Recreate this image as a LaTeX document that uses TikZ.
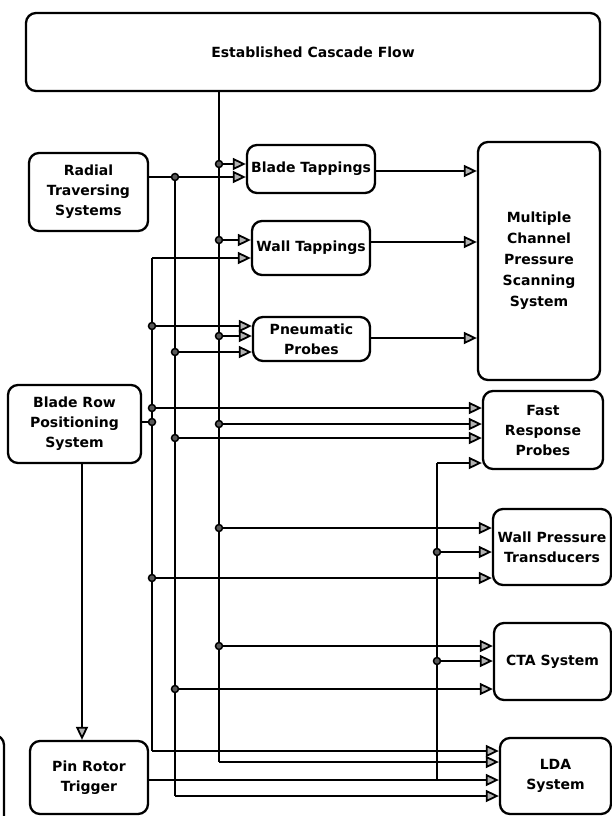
\documentclass[tikz,border=0pt]{standalone}
\usepackage{fontspec}
\setmainfont{DejaVu Sans}
\usetikzlibrary{arrows.meta,calc}
\begin{document}
\begin{tikzpicture}[x=1pt,y=-1pt]
\tikzset{
 box/.style={draw, line width=2.3pt, rounded corners=10pt, align=center,
   font=\bfseries\fontsize{14}{20}\selectfont, inner sep=0pt},
 wire/.style={line width=1.8pt},
 arr/.style={wire, -{Triangle[length=13pt,width=12pt,fill=gray!60,line width=1.8pt]}},
 jdot/.style={circle, draw=black, fill=black!65, line width=1.5pt, inner sep=0pt, minimum size=7pt},
}
\clip (0,0) rectangle (612,816);
\useasboundingbox (0,0) rectangle (612,816);

% boxes
\node[box, minimum width=574pt, minimum height=78pt] (top) at (313,52) {Established Cascade Flow};
\node[box, minimum width=119pt, minimum height=78pt] (rts) at (88.5,192) {Radial\\Traversing\\Systems};
\node[box, minimum width=133pt, minimum height=78pt] (brps) at (74.5,424) {Blade Row\\Positioning\\System};
\node[box, minimum width=118pt, minimum height=73pt] (prt) at (89,777.5) {Pin Rotor\\Trigger};
\node[box, minimum width=128pt, minimum height=48pt] (bt) at (311,169) {Blade Tappings};
\node[box, minimum width=118pt, minimum height=54pt] (wt) at (311,248) {Wall Tappings};
\node[box, minimum width=117pt, minimum height=44pt] (pp) at (311.5,339) {Pneumatic\\Probes};
\node[box, minimum width=122pt, minimum height=238pt, font=\bfseries\fontsize{14}{21}\selectfont] (mcps) at (539,261) {Multiple\\Channel\\Pressure\\Scanning\\System};
\node[box, minimum width=120pt, minimum height=78pt] (frp) at (543,430) {Fast\\Response\\Probes};
\node[box, minimum width=118pt, minimum height=76pt] (wpt) at (552,547) {Wall Pressure\\Transducers};
\node[box, minimum width=117pt, minimum height=77pt] (cta) at (552.5,661.5) {CTA System};
\node[box, minimum width=111pt, minimum height=76pt] (lda) at (555.5,776) {LDA\\System};
% partial box at left edge
\draw[line width=2.3pt, rounded corners=10pt] (-60,735) rectangle (4,840);

% bus C (cascade flow)
\coordinate (c1) at (219,164);
\coordinate (c2) at (219,240);
\coordinate (c3) at (219,336);
\coordinate (c4) at (219,424);
\coordinate (c5) at (219,528);
\coordinate (c6) at (219,646);
\coordinate (cEnd) at (219,762);
\draw[wire] (top.south -| c1) -- (cEnd);
\draw[arr] (c1) -- (c1 -| bt.west);
\draw[arr] (c2) -- (c2 -| wt.west);
\draw[arr] (c3) -- (c3 -| pp.west);
\draw[arr] (c4) -- (c4 -| frp.west);
\draw[arr] (c5) -- (c5 -| wpt.west);
\draw[arr] (c6) -- (c6 -| cta.west);
\draw[arr] (cEnd) -- (cEnd -| lda.west);

% bus B (radial traversing)
\coordinate (b0) at (175,177);
\coordinate (b1) at (175,352);
\coordinate (b2) at (175,438);
\coordinate (b3) at (175,689);
\coordinate (bEnd) at (175,796);
\draw[arr] (rts.east |- b0) -- (b0 -| bt.west);
\draw[wire] (b0) -- (bEnd);
\draw[arr] (b1) -- (b1 -| pp.west);
\draw[arr] (b2) -- (b2 -| frp.west);
\draw[arr] (b3) -- (b3 -| cta.west);
\draw[arr] (bEnd) -- (bEnd -| lda.west);

% bus A (blade row positioning)
\coordinate (aTop) at (152,258);
\coordinate (a1) at (152,326);
\coordinate (a2) at (152,408);
\coordinate (a3) at (152,422);
\coordinate (a4) at (152,578);
\coordinate (aEnd) at (152,751);
\draw[arr] (aTop) -- (aTop -| wt.west);
\draw[wire] (aTop) -- (aEnd);
\draw[wire] (brps.east |- a3) -- (a3);
\draw[arr] (a1) -- (a1 -| pp.west);
\draw[arr] (a2) -- (a2 -| frp.west);
\draw[arr] (a4) -- (a4 -| wpt.west);
\draw[arr] (aEnd) -- (aEnd -| lda.west);

% bus D (pin rotor trigger)
\coordinate (dTop) at (437,463);
\coordinate (d1) at (437,552);
\coordinate (d2) at (437,661);
\coordinate (dEnd) at (437,780);
\draw[arr] (prt.east |- dEnd) -- (dEnd -| lda.west);
\draw[wire] (dEnd) -- (dTop);
\draw[arr] (dTop) -- (dTop -| frp.west);
\draw[arr] (d1) -- (d1 -| wpt.west);
\draw[arr] (d2) -- (d2 -| cta.west);

% to scanning system
\draw[arr] (bt.east |- 0,171) -- (mcps.west |- 0,171);
\draw[arr] (wt.east |- 0,242) -- (mcps.west |- 0,242);
\draw[arr] (pp.east |- 0,338) -- (mcps.west |- 0,338);

% blade row -> pin rotor trigger
\coordinate (vx) at (82,0);
\draw[arr] (brps.south -| vx) -- (prt.north -| vx);

% junction dots
\foreach \p in {c1,c2,c3,c4,c5,c6,b0,b1,b2,b3,a1,a2,a3,a4,d1,d2}
  \node[jdot] at (\p) {};
\end{tikzpicture}
\end{document}
